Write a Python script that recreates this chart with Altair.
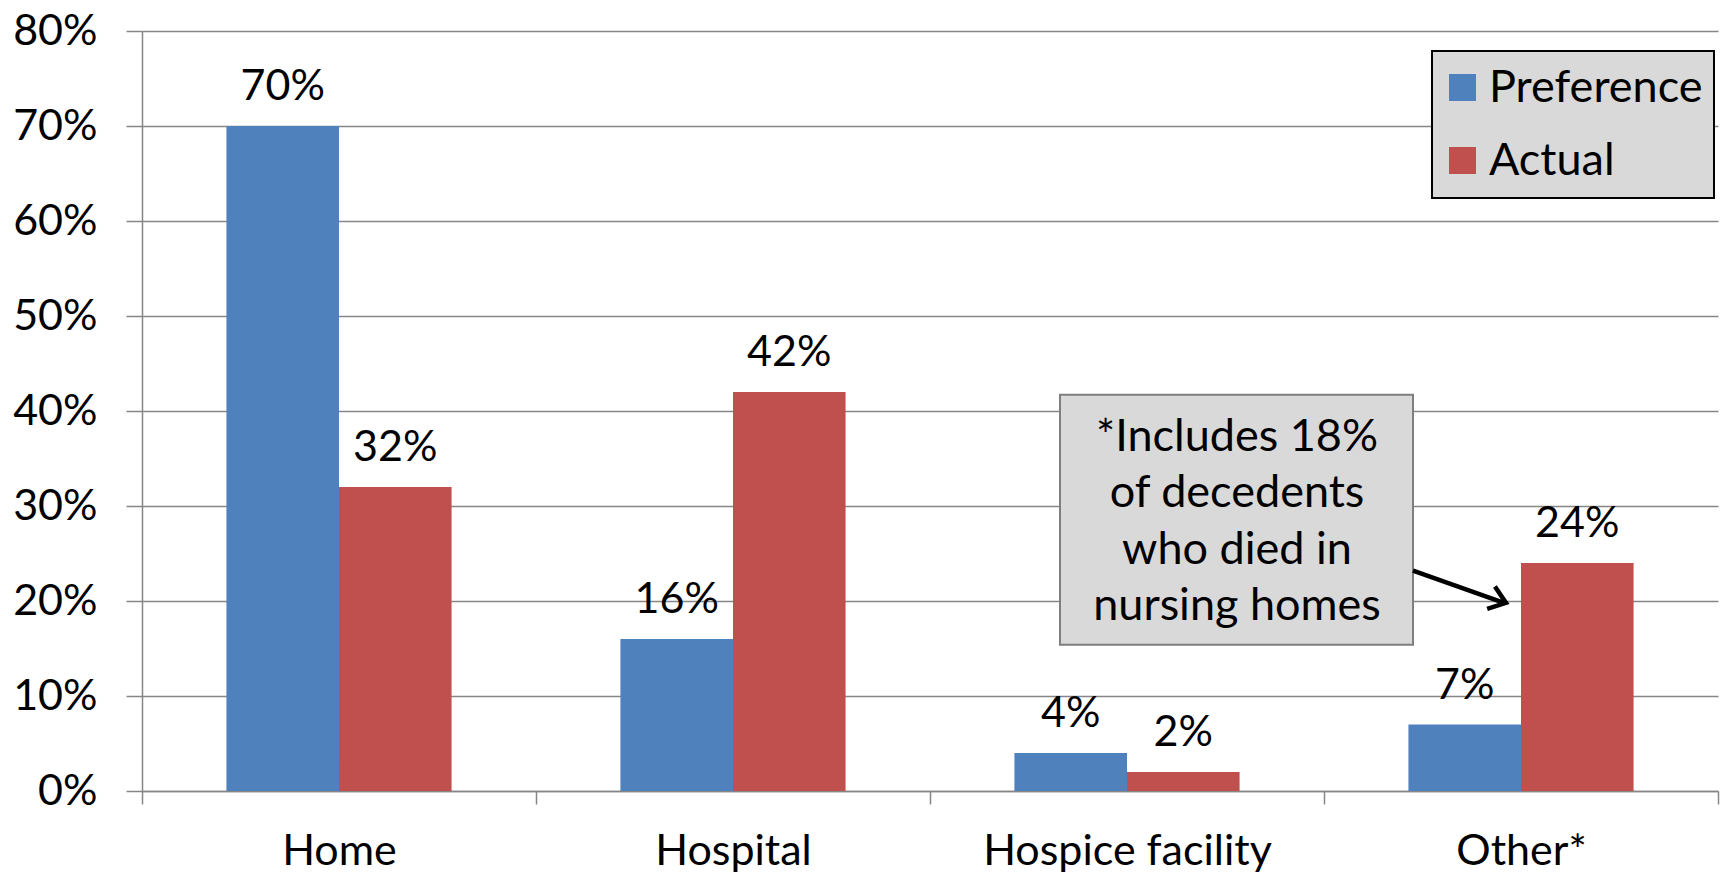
import altair as alt
import pandas as pd

# Place of death: stated preference vs. actual
places = ["Home", "Hospital", "Hospice facility", "Other*"]
series = ["Preference", "Actual"]
preference = [70, 16, 4, 7]
actual = [32, 42, 2, 24]
colors = ["#4f81bd", "#c0504d"]

note_lines = ["*Includes 18%", "of decedents", "who died in", "nursing homes"]

FONT = "Lato"
FS = 43       # axis and bar labels
FS_BIG = 45   # legend and callout text

rows = []
for i, p in enumerate(places):
    rows.append({"place": p, "series": "Preference", "value": preference[i]})
    rows.append({"place": p, "series": "Actual", "value": actual[i]})
df = pd.DataFrame(rows)
df["label"] = df["value"].astype(str) + "%"

x_enc = alt.X(
    "place:N",
    sort=places,
    title=None,
    scale=alt.Scale(paddingInner=0, paddingOuter=0),
    axis=alt.Axis(
        labelAngle=0,
        labelFont=FONT,
        labelFontSize=FS,
        labelColor="black",
        labelPadding=26,
        labelLimit=500,
        tickBand="extent",
        tickSize=13,
        tickColor="#868686",
        tickWidth=1.5,
        domainColor="#868686",
        domainWidth=1.5,
        grid=False,
    ),
)
xoff_enc = alt.XOffset(
    "series:N", sort=series, scale=alt.Scale(paddingInner=0, paddingOuter=0.75)
)
y_scale = alt.Scale(domain=[0, 80], nice=False)
y_enc = alt.Y(
    "value:Q",
    scale=y_scale,
    title=None,
    axis=alt.Axis(
        values=list(range(0, 81, 10)),
        labelExpr="datum.value + '%'",
        labelFont=FONT,
        labelFontSize=FS,
        labelColor="black",
        labelPadding=29,
        tickSize=16,
        tickColor="#868686",
        tickWidth=1.5,
        domainColor="#868686",
        domainWidth=1.5,
        grid=True,
        gridColor="#868686",
        gridWidth=1.5,
    ),
)

color_enc = alt.Color(
    "series:N",
    sort=series,
    scale=alt.Scale(domain=series, range=colors),
    legend=alt.Legend(
        title=None,
        orient="none",
        legendX=1298,
        legendY=34,
        padding=0,
        symbolType="square",
        symbolSize=729,
        symbolStrokeWidth=0,
        labelFont=FONT,
        labelFontSize=FS_BIG,
        labelColor="black",
        labelOffset=4,
        rowPadding=27,
        labelLimit=400,
    ),
)

# Grey frame behind the legend entries
legend_frame = alt.Chart(pd.DataFrame({"k": [0]})).mark_rect(
    fill="#d9d9d9", stroke="black", strokeWidth=2
).encode(
    x=alt.value(1290), x2=alt.value(1572), y=alt.value(20), y2=alt.value(167)
)

bars = alt.Chart(df).mark_bar().encode(
    x=x_enc, xOffset=xoff_enc, y=y_enc, color=color_enc
)

labels = alt.Chart(df).mark_text(
    font=FONT, fontSize=FS, color="black", baseline="alphabetic", dy=-26
).encode(x=x_enc, xOffset=xoff_enc, y=alt.Y("value:Q", scale=y_scale), text="label:N")

# Callout box explaining the "Other*" category
box_df = pd.DataFrame({"top": [41.7], "bottom": [15.4]})
box = alt.Chart(box_df).mark_rect(
    fill="#d9d9d9", stroke="#7f7f7f", strokeWidth=2
).encode(
    x=alt.value(918),
    x2=alt.value(1271),
    y=alt.Y("top:Q", scale=y_scale),
    y2="bottom:Q",
)

note_df = pd.DataFrame({"line": note_lines, "pos": [37.3, 31.4, 25.4, 19.5]})
note = alt.Chart(note_df).mark_text(
    font=FONT, fontSize=FS_BIG, color="black", align="center", baseline="middle"
).encode(x=alt.value(1095), y=alt.Y("pos:Q", scale=y_scale), text="line:N")

arrow_df = pd.DataFrame({"y0": [23.2], "y1": [19.8]})
arrow_line = alt.Chart(arrow_df).mark_rule(color="black", strokeWidth=4.5).encode(
    x=alt.value(1271),
    x2=alt.value(1362),
    y=alt.Y("y0:Q", scale=y_scale),
    y2="y1:Q",
)
arrow_head = alt.Chart(arrow_df).mark_point(
    shape="M -1 -0.75 L 0 0 L -1 0.75",
    filled=False,
    stroke="black",
    strokeWidth=4.5,
    size=1000,
    angle=19,
    opacity=1,
).encode(x=alt.value(1364), y=alt.Y("y1:Q", scale=y_scale))

chart = (
    alt.layer(bars, labels, box, note, arrow_line, arrow_head, legend_frame)
    .properties(
        width=1576,
        height=760,
        autosize=alt.AutoSizeParams(type="none"),
        padding={"left": 142, "top": 31, "right": 3, "bottom": 85},
        background="white",
    )
    .configure_view(strokeWidth=0)
)

chart.save("out.html", embed_options={"renderer": "svg", "actions": False})
